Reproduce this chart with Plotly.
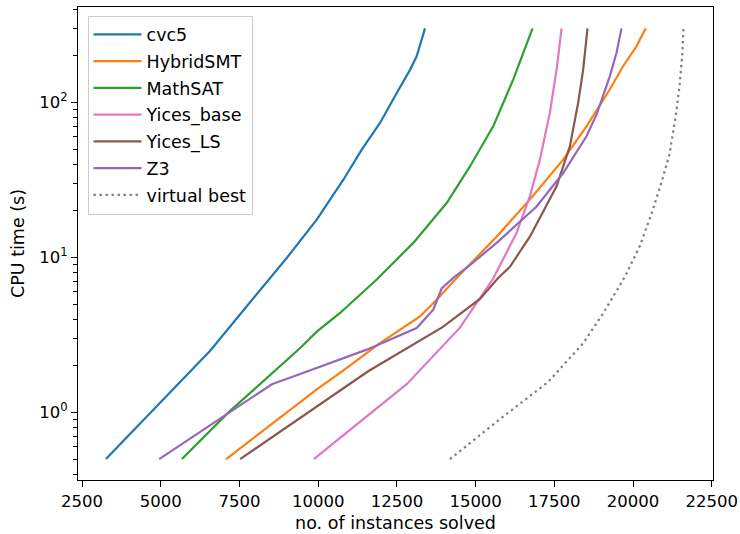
import plotly.graph_objects as go

# ---- data ----
cvc5_x = [3260, 4690, 6570, 7680, 8790, 9000, 9955, 10800, 11383, 11964, 12494, 12916, 13128, 13392]
cvc5_y = [0.5, 1.0, 2.5, 4.7, 8.75, 9.9, 17.5, 31.7, 49.5, 73.6, 115, 162, 198, 300]

hybrid_x = [7078, 9429, 9956, 10695, 11964, 13233, 13763, 14343, 15666, 16723, 17780, 18521, 19260, 19683, 20108, 20403]
hybrid_y = [0.5, 1.16, 1.41, 1.8, 2.8, 4.16, 5.33, 7.18, 13.6, 23.6, 42.7, 70, 121, 171, 230, 300]

mathsat_x = [5673, 7150, 9429, 9956, 10695, 11859, 13021, 13550, 14080, 14819, 15558, 16193, 16510, 16808]
mathsat_y = [0.5, 1.0, 2.6, 3.32, 4.38, 7.2, 12.4, 16.7, 22.4, 38.6, 70, 140, 208, 300]

ybase_x = [9860, 11647, 12811, 14502, 15137, 15558, 16301, 16723, 17040, 17357, 17570, 17729]
ybase_y = [0.5, 0.985, 1.52, 3.52, 5.47, 7.3, 14.4, 24.8, 42.7, 85.5, 162, 300]

yls_x = [7522, 9429, 10695, 11600, 13950, 15137, 15700, 16088, 16723, 17570, 17992, 18255, 18414, 18553]
yls_y = [0.5, 0.92, 1.39, 1.85, 3.55, 5.4, 7.3, 8.7, 13.6, 28.7, 52, 99, 162, 300]

z3_x = [4952, 8528, 9429, 10695, 11542, 13128, 13655, 13921, 14300, 14819, 15666, 16935, 17780, 18521, 18839, 19260, 19473, 19632]
z3_y = [0.5, 1.52, 1.77, 2.21, 2.54, 3.5, 4.6, 6.3, 7.4, 8.9, 12.4, 21.3, 35, 60.4, 83.3, 147, 208, 300]

vbest_x = [14185, 15876, 17300, 18414, 19048, 19740, 20212, 20620, 20952, 21164, 21377, 21479, 21560, 21600]
vbest_y = [0.5, 0.94, 1.57, 2.79, 4.35, 7.5, 11.8, 20, 33, 47, 88, 130, 200, 300]

names = ["cvc5", "HybridSMT", "MathSAT", "Yices_base", "Yices_LS", "Z3", "virtual best"]
xs = [cvc5_x, hybrid_x, mathsat_x, ybase_x, yls_x, z3_x, vbest_x]
ys = [cvc5_y, hybrid_y, mathsat_y, ybase_y, yls_y, z3_y, vbest_y]
colors = ["#1f77b4", "#ff7f0e", "#2ca02c", "#e377c2", "#8c564b", "#9467bd", "#7f7f7f"]

x_ticks = [2500, 5000, 7500, 10000, 12500, 15000, 17500, 20000, 22500]
x_ticktext = ["2500", "5000", "7500", "10000", "12500", "15000", "17500", "20000", "22500"]
y_ticks = [1, 10, 100]
y_ticktext = ["10<sup>0</sup>", "10<sup>1</sup>", "10<sup>2</sup>"]
y_minor = [0.4, 0.5, 0.6, 0.7, 0.8, 0.9, 2, 3, 4, 5, 6, 7, 8, 9,
           20, 30, 40, 50, 60, 70, 80, 90, 200, 300, 400]

fig = go.Figure()
for i, (n, x, y, c) in enumerate(zip(names, xs, ys, colors)):
    dash = "2.4px,3.6px" if n == "virtual best" else "solid"
    fig.add_trace(go.Scatter(x=x, y=y, mode="lines", name=n,
                             line=dict(color=c, width=2.2, dash=dash),
                             legendgroup=f"g{i}"))

title_font = dict(family="DejaVu Sans", size=17.5, color="black")
tick_font = dict(family="DejaVu Sans", size=16.5, color="black")
fig.update_layout(
    width=740, height=534,
    margin=dict(l=78, r=27, t=7, b=54),
    paper_bgcolor="white", plot_bgcolor="white",
    font=title_font,
    showlegend=True,
    legend=dict(x=0.015, y=0.982, xanchor="left", yanchor="top",
                bordercolor="#cccccc", borderwidth=1, bgcolor="rgba(255,255,255,0.8)",
                font=dict(family="DejaVu Sans", size=17.5, color="black"),
                tracegroupgap=1, itemwidth=48),
)
fig.update_xaxes(
    range=[2373, 22538], tickmode="array", tickvals=x_ticks, ticktext=x_ticktext,
    tickfont=tick_font,
    ticks="outside", ticklen=6, tickwidth=1.2, tickcolor="black",
    showline=True, linecolor="black", linewidth=1.2, mirror=True,
    showgrid=False, zeroline=False, automargin=False,
    title=dict(text="no. of instances solved", font=title_font, standoff=6),
)
fig.update_yaxes(
    type="log", range=[-0.436, 2.615], tickmode="array",
    tickvals=y_ticks, ticktext=y_ticktext, tickfont=tick_font,
    ticks="outside", ticklen=6, tickwidth=1.2, tickcolor="black",
    minor=dict(tickmode="array", tickvals=y_minor, ticks="outside",
               ticklen=3.5, tickwidth=1, tickcolor="black", showgrid=False),
    showline=True, linecolor="black", linewidth=1.2, mirror=True,
    showgrid=False, zeroline=False, automargin=False,
    title=dict(text="CPU time (s)", font=title_font, standoff=10),
)
fig.write_html("out.html", config={"displayModeBar": False},
               post_script="document.body.style.margin='0';document.body.style.overflow='hidden';")
